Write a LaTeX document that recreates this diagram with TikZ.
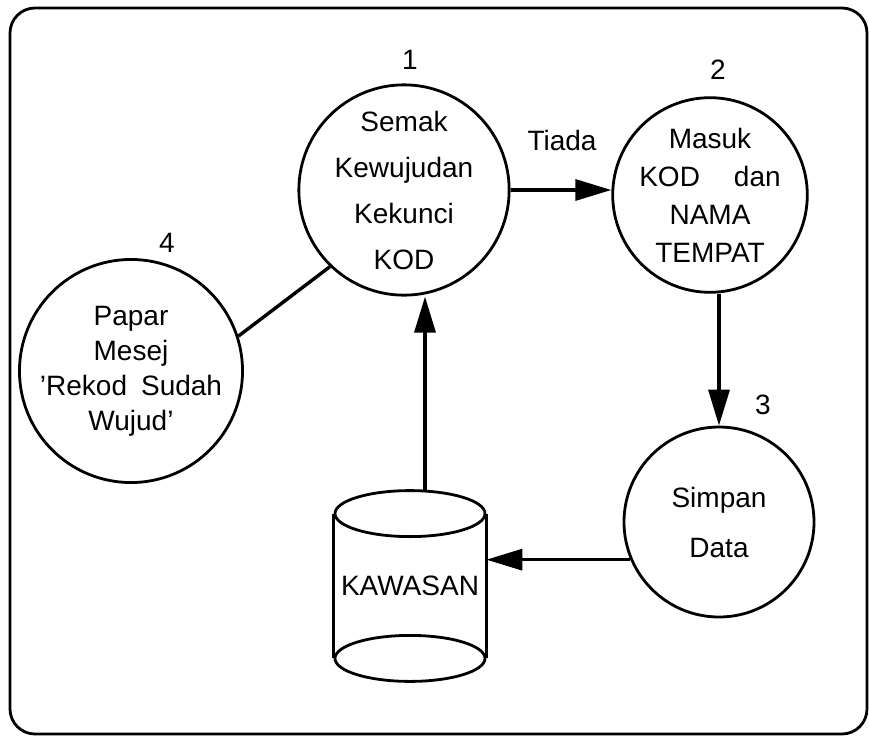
\documentclass[tikz,border=0pt]{standalone}
\usepackage{fontspec}
\setmainfont{Liberation Sans}
\usetikzlibrary{arrows.meta}

\begin{document}
\begin{tikzpicture}[x=1pt, y=-1pt, line width=2.8pt, >={Triangle[length=36pt,width=21pt]}, every node/.style={font=\fontsize{28}{32}\selectfont}]
    \tikzstyle{process}=[circle, draw, line width=2.8pt, minimum size=190pt, inner sep=0pt, align=center]  % Process bubbles
    \tikzstyle{store}=[minimum width=150pt, minimum height=188pt, inner sep=0pt]
    \tikzstyle{number}=[inner sep=0pt]
    \tikzstyle{flow}=[->, line width=3.4pt]

    \useasboundingbox (0,0) rectangle (869,736);

    % Frame
    \draw[rounded corners=25pt] (10,8) rectangle (867,734);

    % Processes
    \node[process, minimum size=200pt, font=\fontsize{28}{46}\selectfont] (P1) at (404,190) {Semak\\Kewujudan\\Kekunci\\KOD};
    \node[process, minimum size=184pt, font=\fontsize{28}{38}\selectfont] (P2) at (710,195) {Masuk\\KOD\hspace{34pt}dan\\NAMA\\TEMPAT};
    \node[process, font=\fontsize{28}{50}\selectfont] (P3) at (719,522) {Simpan\\Data};
    \node[process, minimum size=196pt, font=\fontsize{28}{35}\selectfont] (P4) at (131,371) {Papar\\Mesej\\'Rekod\hspace{14pt}Sudah\\Wujud'};

    % Numbers
    \node[number] (N1) at (410,60) {1};
    \node[number] (N2) at (718,70) {2};
    \node[number] (N3) at (763,405) {3};
    \node[number] (N4) at (167,243) {4};

    % Data store
    \node[store] (D) at (410,586) {KAWASAN};
    \draw ([yshift=-23pt]D.north) ellipse [x radius=75pt, y radius=23pt];
    \draw ([yshift=23pt]D.south) ellipse [x radius=75pt, y radius=23pt];
    \draw ([yshift=-23pt]D.north west) -- ([yshift=23pt]D.south west);
    \draw ([yshift=-23pt]D.north east) -- ([yshift=23pt]D.south east);

    % Flows
    \draw[flow] (P1.east) -- (P1.east -| P2.west);
    \node (T) at (562,140) {Tiada};
    \draw[flow] (P3.north |- P2.south) -- (P3.north);
    \draw[flow] (P3.203) -- (P3.203 -| D.east);
    \draw[flow] ([xshift=15pt]D.north) -- ([xshift=15pt]D.north |- P1.south);
    \draw[line width=3.4pt] (P4.18) -- (P1.226);

\end{tikzpicture}
\end{document}
